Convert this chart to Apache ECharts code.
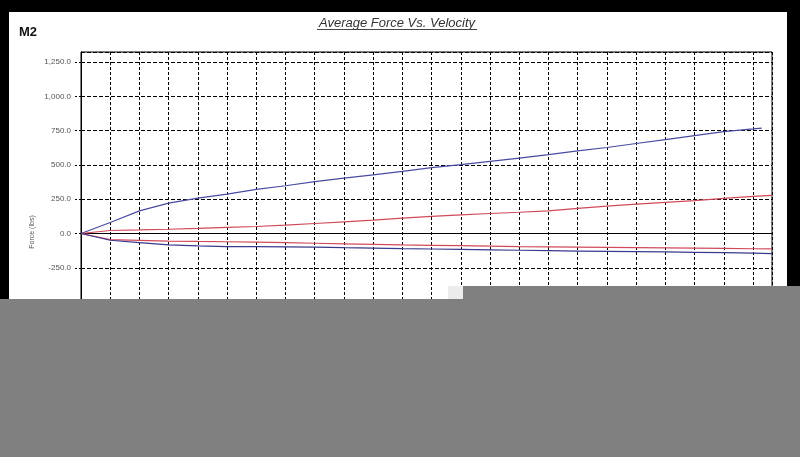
<!DOCTYPE html>
<html>
<head>
<meta charset="utf-8">
<script src="https://cdn.jsdelivr.net/npm/echarts@6/dist/echarts.min.js"></script>
<style>
html,body{margin:0;padding:0;background:#000;}
#c{width:800px;height:457px;}
</style>
</head>
<body>
<div id="c"></div>
<script>
// ---- data ----
var velocity = [0,1,2,3,4,5,6,7,8,9,10,11,12,13,14,15,16,17,18,19,20,21,22,23,23.65];
var blueTopVelocity = [0,1,2,3,4,5,6,7,8,9,10,11,12,13,14,15,16,17,18,19,20,21,22,23,23.3];
var blueTop   = [0,80,165,221,258,287,322,348,378,404,428,453,480,502,526,550,575,602,627,656,684,713,743,762,768];
var redTop    = [0,22,26,31,37,44,51,61,73,85,97,112,125,136,146,155,165,183,200,214,227,240,256,270,278];
var redLow    = [0,-45,-50,-55,-58,-60,-63,-67,-71,-75,-79,-83,-86,-89,-92,-95,-97,-99,-101,-103,-105,-107,-109,-111,-112];
var blueLow   = [0,-49,-66,-83,-90,-95,-96,-97,-99,-103,-106,-110,-113,-116,-119,-122,-125,-128,-130,-132,-134,-137,-140,-143,-146];
var yTicks = [-750,-500,-250,0,250,500,750,1000,1250];

function pairs(xs, ys){ return ys.map(function(v,i){ return [xs[i], v]; }); }
function fmt(v){
  var s = Math.abs(v).toFixed(1).split('.');
  s[0] = s[0].replace(/\B(?=(\d{3})+(?!\d))/g, ',');
  return (v < 0 ? '-' : '') + s.join('.');
}

var chart = echarts.init(document.getElementById('c'), null, {renderer:'canvas'});
var FONT = 'Liberation Sans, Arial, sans-serif';
chart.setOption({
  animation:false,
  backgroundColor:'#ffffff',
  grid:{left:81, top:52, right:28, height:284.4, show:true, borderColor:'#000', borderWidth:1, backgroundColor:'transparent'},
  xAxis:{
    type:'value', min:0, max:23.65, interval:1,
    axisLine:{show:true, onZero:true, lineStyle:{color:'#000', width:1}},
    axisTick:{show:false},
    axisLabel:{show:false},
    splitLine:{show:true, lineStyle:{color:'#000', width:1, type:[3,2]}}
  },
  yAxis:{
    type:'value', min:-750, max:1323, interval:250,
    axisLine:{show:true, lineStyle:{color:'#000', width:1}},
    axisTick:{show:true, length:6, lineStyle:{color:'#000', type:[2,2]}},
    axisLabel:{
      margin:10, fontSize:8, color:'#555', fontFamily:FONT, showMaxLabel:false,
      formatter:function(v){ return yTicks.indexOf(v) >= 0 ? fmt(v) : ''; }
    },
    splitLine:{show:true, lineStyle:{color:'#000', width:1, type:[4,2]}}
  },
  series:[
    {type:'line', data:pairs(blueTopVelocity, blueTop), showSymbol:false, lineStyle:{color:'#4a4aa2', width:1.2}, z:5},
    {type:'line', data:pairs(velocity, redTop), showSymbol:false, lineStyle:{color:'#d04a5a', width:1.2}, z:5},
    {type:'line', data:pairs(velocity, redLow), showSymbol:false, lineStyle:{color:'#d04a5a', width:1.2}, z:5},
    {type:'line', data:pairs(velocity, blueLow), showSymbol:false, lineStyle:{color:'#3a3a8e', width:1.2}, z:5}
  ],
  graphic:[
    {type:'text', x:397, y:23, z:50, style:{text:'Average Force Vs. Velocity', fill:'#333', font:'italic 13px Liberation Sans, Arial, sans-serif', textAlign:'center', textVerticalAlign:'middle'}},
    {type:'line', z:50, shape:{x1:317, y1:29.5, x2:477, y2:29.5}, style:{stroke:'#444', lineWidth:1}},
    {type:'text', x:19, y:32, z:50, style:{text:'M2', fill:'#111', font:'bold 13px Liberation Sans, Arial, sans-serif', textAlign:'left', textVerticalAlign:'middle'}},
    {type:'text', x:32, y:232, rotation:Math.PI/2, z:50, style:{text:'Force (lbs)', fill:'#555', font:'7px Liberation Sans, Arial, sans-serif', textAlign:'center', textVerticalAlign:'middle'}},
    {type:'rect', z:100, shape:{x:0, y:0, width:800, height:12}, style:{fill:'#000'}},
    {type:'rect', z:100, shape:{x:0, y:0, width:9, height:457}, style:{fill:'#000'}},
    {type:'rect', z:100, shape:{x:787, y:0, width:13, height:457}, style:{fill:'#000'}},
    {type:'rect', z:110, shape:{x:0, y:299, width:800, height:158}, style:{fill:'#808080'}},
    {type:'rect', z:110, shape:{x:463, y:286, width:337, height:14}, style:{fill:'#808080'}},
    {type:'rect', z:105, shape:{x:448, y:286, width:15, height:13}, style:{fill:'#ececec'}}
  ]
});
</script>
</body>
</html>
